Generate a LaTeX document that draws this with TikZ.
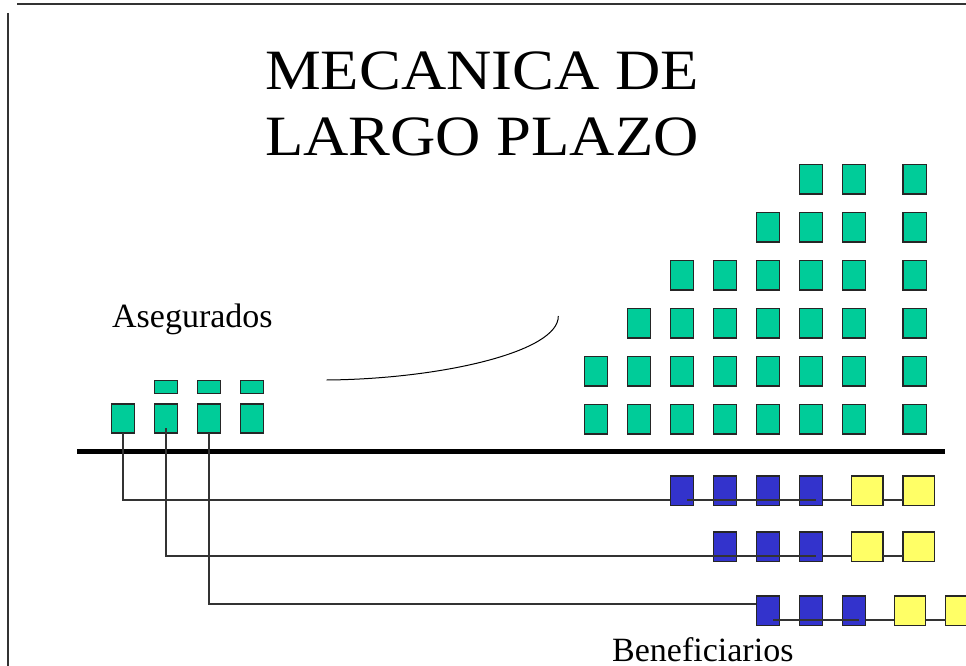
\documentclass[tikz,border=0pt]{standalone}
\usepackage{fontspec}
\setmainfont{Liberation Serif}
\newfontfamily\titlefont[FakeStretch=1.1]{Liberation Serif}
\usetikzlibrary{positioning, calc}
\definecolor{CGreen}{HTML}{00CC99}
\definecolor{CBlue}{HTML}{3333CC}
\definecolor{CYellow}{HTML}{FFFF66}
\definecolor{CLine}{HTML}{333333}

\begin{document}
\begin{tikzpicture}[x=1pt, y=-1pt,
    asegbox/.style={draw=black!85, fill=CGreen, line width=1.4pt, inner sep=0pt, outer sep=0pt, minimum width=23.3pt, minimum height=29.3pt},
    benbox/.style={asegbox, fill=CBlue},
    yelbox/.style={asegbox, fill=CYellow, minimum width=31.3pt},
    link/.style={draw=CLine, line width=1.3pt},
    titletext/.style={font=\titlefont\fontsize{57}{60}\selectfont, inner sep=0pt},
    labeltext/.style={font=\fontsize{34}{36}\selectfont, inner sep=0pt}]
    % Page
    \useasboundingbox (0,0) rectangle (966,666);
    \draw[link, line width=1.2pt] (17,4) -- (966,4);
    \draw[link, line width=1.2pt] (8,13) -- (8,666);

    % --- Title ---
    \node[titletext, anchor=base west] (title1) at (265,90) {MECANICA DE};
    \node[titletext, anchor=base west] (title2) at (265,155) {LARGO PLAZO};

    % --- Asegurados ---
    \node[labeltext, anchor=base west] (aseg) at (112,327.3) {Asegurados};
    \foreach \i in {1,...,4} {
        \node[asegbox] (a\i) at ({123+43*(\i-1)},418.5) {};
    }
    \foreach \i in {2,3,4} {
        \node[asegbox, minimum height=13pt] (t\i) at ({123+43*(\i-1)},387.2) {};
    }

    % Curve towards the grown population
    \coordinate (CurveL) at (326.7,380);
    \coordinate (CurveR) at (558.3,316);
    \draw[black, line width=1pt] (CurveL) .. controls (440,379) and (559,352) .. (CurveR);

    % --- Grid of insured (rows from the top) ---
    \foreach \r/\first in {1/6,2/5,3/3,4/2,5/1,6/1} {
        \foreach \c in {\first,...,7} {
            \node[asegbox] (g\r-\c) at ({596+43*(\c-1)},{179.3+48*(\r-1)}) {};
        }
        \node[asegbox] (g\r-8) at (914.7,{179.3+48*(\r-1)}) {};
    }

    % Ground line
    \draw[black, line width=5pt] (77,451.5) -- (945,451.5);

    % --- Beneficiarios ---
    \begin{scope}
    \clip (0,0) rectangle (966,666);
    \foreach \row/\y/\first/\last/\ya/\yb in {A/490.7/3/6/867.3/918.7, B/546.7/4/6/867.3/918.7, C/610.7/5/7/910/961.3} {
        \foreach \c in {\first,...,\last} {
            \node[benbox] (b\row\c) at ({596+43*(\c-1)},\y) {};
        }
        \node[yelbox] (y\row1) at (\ya,\y) {};
        \node[yelbox] (y\row2) at (\yb,\y) {};
        \draw[link] ([yshift=-9.3pt]b\row\last.east) -- ([yshift=-9.3pt]y\row1.west);
        \draw[link] ([yshift=-9.3pt]y\row1.east) -- ([yshift=-9.3pt]y\row2.west);
    }
    \end{scope}
    \node[labeltext, anchor=base west] (benef) at (612,661.7) {Beneficiarios};

    % Links from each insured to its row
    \draw[link] (a1.south) |- ([yshift=-9.3pt]bA3.west);
    \draw[link] ([yshift=5pt]a2.south) |- ([yshift=-9.3pt]bB4.west);
    \draw[link] (a3.south) |- ([yshift=6.7pt]bC5.west);
    \draw[link] ([shift={(5pt,-9.3pt)}]bA3.center) -- ([shift={(5pt,-9.3pt)}]bA6.center);
    \draw[link] ([yshift=-9.3pt]bB4.west) -- ([shift={(5pt,-9.3pt)}]bB6.center);
    \draw[link] ([shift={(5pt,-9.3pt)}]bC5.center) -- ([shift={(5pt,-9.3pt)}]bC7.center);

\end{tikzpicture}
\end{document}
